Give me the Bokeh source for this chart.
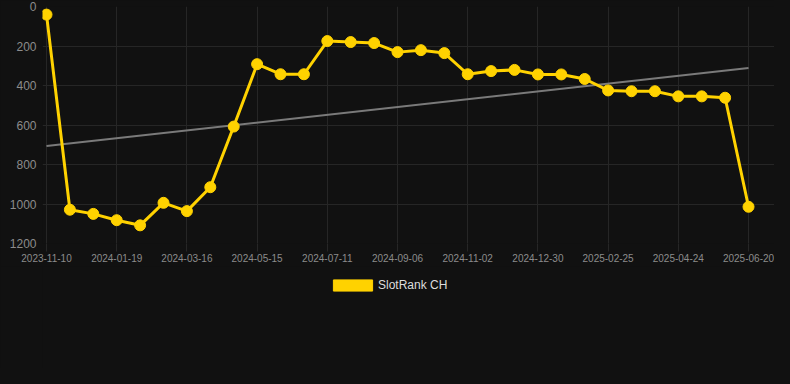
import numpy as np
from bokeh.plotting import figure
from bokeh.layouts import column
from bokeh.models import Range1d, FixedTicker, Legend, LegendItem, ColumnDataSource
from bokeh.embed import file_html
from bokeh.resources import INLINE

# ---- data ----
tick_labels = ["2023-11-10", "2024-01-19", "2024-03-16", "2024-05-15", "2024-07-11",
               "2024-09-06", "2024-11-02", "2024-12-30", "2025-02-25", "2025-04-24",
               "2025-06-20"]
rank = [41, 1029, 1050, 1082, 1108, 994, 1036, 915, 608, 292, 343, 343, 175, 180, 185,
        231, 221, 236, 343, 327, 321, 344, 344, 367, 425, 429, 429, 455, 455, 462, 1014]
series_name = "SlotRank CH"
y_ticks = [0, 200, 400, 600, 800, 1000, 1200]

BG = "#111111"
GOLD = "#FFD200"
GRID = "#262626"
TXT = "#8c8c8c"

x = list(range(len(rank)))
coef = np.polyfit(x, rank, 1)
trend = list(np.polyval(coef, [x[0], x[-1]]))

p = figure(width=774, height=266, output_backend="svg", toolbar_location=None,
           x_range=Range1d(-0.171, 31.11), y_range=Range1d(1200, 0),
           background_fill_color=BG, border_fill_color=BG,
           min_border_left=42, min_border_top=6, min_border_right=0, min_border_bottom=23)
p.outline_line_color = None

p.line([x[0], x[-1]], trend, line_color="#7a7a7a", line_width=2)
src = ColumnDataSource(dict(x=x, y=rank))
p.line("x", "y", source=src, line_color=GOLD, line_width=3)
p.scatter("x", "y", source=src, size=11, fill_color=GOLD, line_color=GOLD)

p.xaxis.ticker = FixedTicker(ticks=[i * 3 for i in range(len(tick_labels))])
p.xaxis.major_label_overrides = {i * 3: lab for i, lab in enumerate(tick_labels)}
p.yaxis.ticker = FixedTicker(ticks=y_ticks)

for ax in (p.xaxis[0], p.yaxis[0]):
    ax.axis_line_color = None
    ax.major_tick_line_color = GRID
    ax.major_tick_in = 0
    ax.minor_tick_line_color = None
    ax.major_label_text_color = TXT
    ax.major_label_text_font = "Liberation Sans"
p.xaxis.major_tick_out = 8
p.xaxis.major_label_text_font_size = "10px"
p.xaxis.major_label_standoff = 2
p.yaxis.major_tick_out = 0
p.yaxis.major_label_text_font_size = "12px"
p.yaxis.major_label_standoff = 6

p.xgrid.grid_line_color = GRID
p.ygrid.grid_line_color = GRID

# legend panel below the chart
lf = figure(width=774, height=102, output_backend="svg", toolbar_location=None,
            x_range=Range1d(0, 1), y_range=Range1d(0, 1),
            x_axis_type=None, y_axis_type=None,
            background_fill_color=BG, border_fill_color=BG,
            min_border_left=42, min_border_right=0, min_border_top=0, min_border_bottom=0)
lf.outline_line_color = None
lf.xgrid.visible = False
lf.ygrid.visible = False
# swatch renderer kept outside the visible range; only its legend swatch shows
dummy = lf.quad(left=[5], right=[6], top=[6], bottom=[5], fill_color=GOLD, line_color=GOLD)
legend = Legend(items=[LegendItem(label=series_name, renderers=[dummy])],
                location=(286, 76), orientation="horizontal",
                background_fill_alpha=0, border_line_color=None,
                label_text_color="#dddddd", label_text_font="Liberation Sans",
                label_text_font_size="12px", glyph_width=49, glyph_height=14,
                label_height=14, label_standoff=1, padding=0, margin=0)
lf.add_layout(legend, "center")

layout = column(p, lf, spacing=0)

html = file_html(layout, INLINE)
html = html.replace("</head>", "<style>body{background:#111111;}</style></head>", 1)
open("out.html", "w").write(html)
